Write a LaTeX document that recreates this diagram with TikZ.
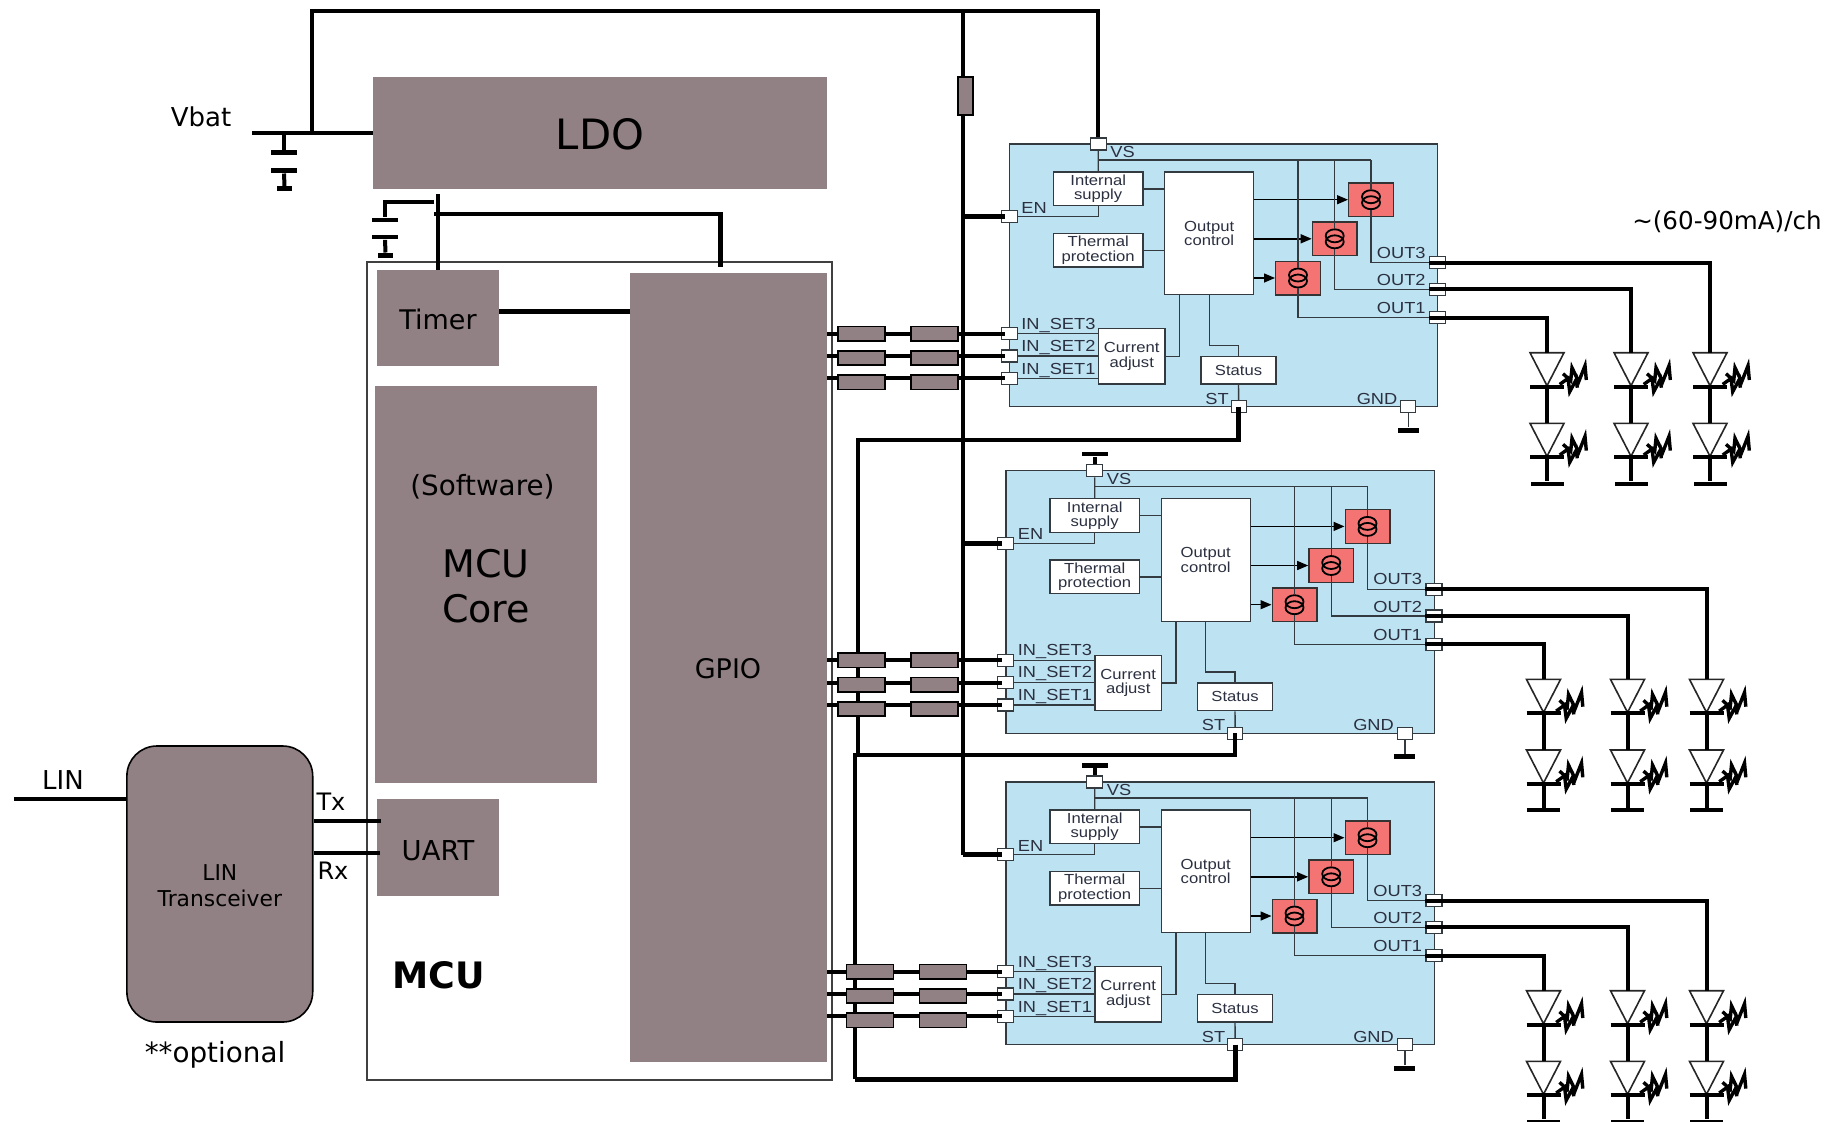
\documentclass[tikz,border=0pt]{standalone}
\usepackage{fontspec}
\setmainfont{DejaVu Sans}
\newfontfamily\chipfont[FakeStretch=1.14]{Liberation Sans}
\usetikzlibrary{positioning,arrows.meta,shapes.geometric}
\definecolor{grisbox}{HTML}{928184}
\definecolor{azulchip}{HTML}{BDE3F2}
\definecolor{rojosrc}{HTML}{F47474}
\definecolor{linchip}{HTML}{333A40}
\definecolor{txtchip}{HTML}{2B3040}
\tikzset{
  graybox/.style={rectangle, fill=grisbox, inner sep=0pt, align=center},
  chip/.style={rectangle, draw=linchip, line width=.7pt, fill=azulchip, inner sep=0pt},
  subbox/.style={rectangle, draw=linchip, line width=.7pt, fill=white, inner sep=0pt, align=center,
    text=txtchip, font=\chipfont\fontsize{7.3}{7.2}\selectfont},
  srcbox/.style={rectangle, draw=black!80, line width=.7pt, fill=rojosrc, inner sep=0pt,
    minimum width=22.3pt, minimum height=16.8pt},
  coil/.style={ellipse, draw=black, line width=.9pt, inner sep=0pt, minimum width=9pt, minimum height=6.5pt},
  pinbox/.style={rectangle, draw=linchip, line width=.6pt, fill=white, inner sep=0pt,
    minimum width=8pt, minimum height=6pt},
  pinlbl/.style={inner sep=0pt, text=txtchip, font=\chipfont\fontsize{8}{10}\selectfont},
  wire/.style={draw=linchip, line width=.7pt},
  flecha/.style={draw=black, line width=.7pt, -{Triangle[length=5.5pt,width=4.5pt]}},
  bus/.style={draw=black, line width=2pt},
  busthick/.style={draw=black, line width=2.4pt},
  plate/.style={rectangle, fill=black, inner sep=0pt, minimum width=13pt, minimum height=2.4pt},
  shortplate/.style={plate, minimum width=7.5pt},
  res/.style={rectangle, draw=black, line width=.8pt, fill=grisbox, inner sep=0pt,
    minimum width=23.5pt, minimum height=7.2pt},
  led/.pic={
    \draw[black!85, line width=.8pt, fill=white] (-17,-33) -- (17,-33) -- (0,0) -- cycle;
    \draw[black, line width=2pt] (-17,1) -- (17,1);
    \draw[black, line width=1.7pt] (16,-12) -- (23.7,-5) -- (25,-18) -- (31.7,-4) -- (38,-20) -- (39.3,-5.7);
    \draw[black, line width=1.7pt] (12.7,-1.3) -- (21,-7.3) -- (22.7,6) -- (29.3,-6.3) -- (30.3,2);
    \coordinate (-top) at (0,-33);
    \coordinate (-bot) at (0,1);
  },
}
\begin{document}
\begin{tikzpicture}[x=.5pt, y=-.5pt]
    \useasboundingbox (0,0) rectangle (1836,1121);
    % MCU
    \node[rectangle, draw=black!75, line width=.9pt, fill=white, minimum width=232.8pt, minimum height=409pt, inner sep=0pt] (mcu) at (599.5,670.7) {};
    \node[graybox, minimum width=226.8pt, minimum height=55.8pt] (ldo) at (599.8,132.8) {};
    \node[inner sep=0pt, font=\fontsize{20.9}{24}\selectfont] (ldolbl) at (600,134) {LDO};
    \node[graybox, minimum width=61pt, minimum height=48.2pt] (timer) at (438,318.2) {};
    \node[inner sep=0pt, font=\fontsize{13.5}{16}\selectfont] (timerlbl) at (438,319.5) {Timer};
    \node[graybox, minimum width=111.2pt, minimum height=198.5pt] (core) at (485.8,584.9) {};
    \node[inner sep=0pt, font=\fontsize{13.9}{16}\selectfont] (soft) at (482.4,487) {(Software)};
    \node[inner sep=0pt, align=center, font=\fontsize{19}{22.4}\selectfont] (corelbl) at (486,586) {MCU\\Core};
    \node[graybox, minimum width=61pt, minimum height=48.6pt] (uart) at (438,847.2) {};
    \node[inner sep=0pt, font=\fontsize{13.7}{16}\selectfont] (uartlbl) at (438,850.5) {UART};
    \node[graybox, minimum width=98.4pt, minimum height=394.4pt] (gpio) at (728.4,667.3) {};
    \node[inner sep=0pt, font=\fontsize{13.5}{16}\selectfont] (gpiolbl) at (728,668.5) {GPIO};
    \node[inner sep=0pt, font=\bfseries\fontsize{18.2}{20}\selectfont] (mculbl) at (439,975.5) {MCU};
    % LIN
    \node[graybox, draw=black, line width=.8pt, rounded corners=15pt, minimum width=92.9pt, minimum height=138pt] (lin) at (219.8,884) {};
    \node[inner sep=0pt, align=center, font=\fontsize{10.9}{13}\selectfont] (linlbl2) at (219.8,886) {LIN\\Transceiver};
    \node[inner sep=0pt, font=\fontsize{13.9}{16}\selectfont] (optlbl) at (215,1055) {**optional};
    \coordinate (linin) at (14,799.3);
    \coordinate (txin) at (381,820.7);
    \coordinate (rxin) at (380,852.7);
    \draw[bus] (linin) -- (linin -| lin.west);
    \draw[bus] (txin) -- (txin -| lin.east);
    \draw[bus] (rxin) -- (rxin -| lin.east);
    \node[inner sep=0pt, font=\fontsize{13}{14}\selectfont] (linlbl) at (63,780) {LIN};
    \node[inner sep=0pt, font=\fontsize{12}{14}\selectfont] (txlbl) at (331,802) {Tx};
    \node[inner sep=0pt, font=\fontsize{12}{14}\selectfont] (rxlbl) at (333,871) {Rx};
    \coordinate (timerj) at (499,311.3);
    \draw[busthick] (timerj) -- (timerj -| gpio.west);
    % Bateria y cap
    \node[inner sep=0pt, font=\fontsize{13}{16}\selectfont] (vbat) at (201,117) {Vbat};
    \node[inner sep=0pt, font=\fontsize{12.3}{15}\selectfont] (corr) at (1727,222) {\textasciitilde(60-90mA)/ch};
    \coordinate (vbatl) at (252,132.7);
    \coordinate (railtop) at (311.7,11);
    \node[plate] (batt1) at (284,152.3) {};
    \node[plate] (batt2) at (284,170.7) {};
    \node[shortplate] (batt3) at (284.5,188.7) {};
    \draw[bus] (vbatl) -- (ldo.west |- vbatl);
    \draw[bus] (vbatl -| batt1) -- (batt1);
    \draw[bus] (batt2) -- (batt3);
    \node[plate] (cap1) at (385,220) {};
    \node[plate] (cap2) at (385,237) {};
    \node[shortplate] (cap3) at (385.5,255.3) {};
    \coordinate (capj) at (434,202);
    \coordinate (timertop) at (438,194);
    \coordinate (busj) at (434.3,214);
    \coordinate (gpj) at (720.3,266.7);
    \draw[bus] (capj) -| (cap1);
    \draw[bus] (cap2) -- (cap3);
    \draw[bus] (timertop) -- (timer.north);
    \draw[busthick] (busj) -| (gpj);
    % Drivers
    \foreach \n/\dx/\dy in {a/0/0,b/-3.5/326.7,c/-3.5/638}{
      \begin{scope}[shift={(\dx,\dy)}]
        \node[chip, minimum width=214.2pt, minimum height=131.4pt] (drv\n) at (1223.5,275.3) {};
        \node[subbox, minimum width=44.8pt, minimum height=16.8pt] (supply\n) at (1098.2,188.8) {Internal\\supply};
        \node[subbox, minimum width=44.8pt, minimum height=16.8pt] (therm\n) at (1098.2,250.2) {Thermal\\protection};
        \node[subbox, minimum width=44.5pt, minimum height=61.4pt] (ctrl\n) at (1209.2,233.3) {Output\\control};
        \node[subbox, minimum width=33.3pt, minimum height=27.7pt] (adj\n) at (1131.7,356.3) {Current\\adjust};
        \node[subbox, minimum width=37.5pt, minimum height=13.8pt] (stat\n) at (1238.5,370.2) {Status};
        \node[pinbox] (vs\n) at (1098.3,144) {};
        \node[pinbox] (en\n) at (1009.3,216.7) {};
        \node[pinbox, minimum width=7.5pt] (st\n) at (1238.7,406.7) {};
        \node[pinbox, minimum width=7.5pt] (gnd\n) at (1408.3,406.7) {};
        \node[plate, minimum width=10.5pt, below=7pt of gnd\n] (gbar\n) {};
        \coordinate (bus\n) at (1371,160);
        \coordinate (stj\n) at (1238.5,345.3);
        \coordinate (adjj\n) at (1179.3,294.7);
        \draw[wire] (vs\n) -- (supply\n.north);
        \draw[wire] (vs\n |- bus\n) -- (bus\n);
        \draw[wire] (en\n) -| (supply\n.south);
        \draw[wire] (gnd\n) -- (gbar\n);
        \draw[wire] (supply\n.east) -- (ctrl\n.west |- supply\n.east);
        \draw[wire] (therm\n.east) -- (ctrl\n.west |- therm\n.east);
        \draw[wire] (adj\n.east) -| (adjj\n);
        \draw[wire] (ctrl\n.south) |- (stj\n) -- (stat\n.north);
        \draw[wire] (stat\n.south) -- (st\n);
        \foreach \k/\sx/\sy/\oy in {3/1371/199.7/262.5,2/1334.7/238.8/289.3,1/1298/278/317.7}{
          \node[srcbox] (red\k\n) at (\sx,\sy) {};
          \node[coil] (hi\k\n) at (\sx,\sy-3) {};
          \node[coil] (lo\k\n) at (\sx,\sy+3) {};
          \node[pinbox] (out\k\n) at (1437.5,\oy) {};
          \draw[wire] (hi\k\n.north |- bus\n) -- (hi\k\n.north);
          \draw[wire] (lo\k\n.south) |- (out\k\n.west);
          \draw[flecha] (ctrl\n.east |- red\k\n) -- (red\k\n.west);
        }
        \foreach \k/\iy in {3/333.7,2/356,1/378.3}{
          \node[pinbox] (in\k\n) at (1009.3,\iy) {};
          \draw[wire] (in\k\n.east) -- (adj\n.west |- in\k\n);
        }
        \node[pinlbl, anchor=west] (lvs\n) at (1110,152) {VS};
        \node[pinlbl, anchor=west] (len\n) at (1021,207.5) {EN};
        \node[pinlbl, anchor=west] (ls3\n) at (1021,325) {IN\_SET3};
        \node[pinlbl, anchor=west] (ls2\n) at (1021,347) {IN\_SET2};
        \node[pinlbl, anchor=west] (ls1\n) at (1021,370) {IN\_SET1};
        \node[pinlbl, anchor=east] (lo3\n) at (1426,252.7) {OUT3};
        \node[pinlbl, anchor=east] (lo2\n) at (1426,280) {OUT2};
        \node[pinlbl, anchor=east] (lo1\n) at (1426,308) {OUT1};
        \node[pinlbl] (lst\n) at (1217,398.5) {ST};
        \node[pinlbl] (lgn\n) at (1377,398.5) {GND};
        % LEDs
        \foreach \k/\cx in {1/1547,2/1631,3/1710}{
          \pic (ledu\k\n) at (\cx,385.7) {led};
          \pic (ledd\k\n) at (\cx,456.3) {led};
          \node[plate, minimum width=16.5pt, minimum height=2pt] (lgnd\k\n) at (\cx,483.7) {};
          \draw[bus] (out\k\n.west) -| (ledu\k\n-top);
          \draw[bus] (ledu\k\n-bot) -- (ledd\k\n-top);
          \draw[bus] (ledd\k\n-bot) -- (lgnd\k\n);
        }
      \end{scope}
    }
    % Alimentacion
    \node[plate, above=3.7pt of vsb] (vbarb) {};
    \node[plate, above=3.7pt of vsc] (vbarc) {};
    \draw[bus] (vsb) -- (vbarb);
    \draw[bus] (vsc) -- (vbarc);
    \draw[bus] (vbatl -| railtop) -- (railtop) -| (vsa.north);
    \coordinate (entop) at (963,11);
    \draw[busthick] (entop) -- (entop |- enc);
    \foreach \n in {a,b,c}{
      \draw[busthick] (entop |- en\n) -- ([xshift=-2pt]en\n.center);
    }
    \node[res, minimum width=7.5pt, minimum height=19pt] (rvs) at (965.5,96) {};
    % Status
    \coordinate (stlinea) at (858,440);
    \coordinate (stlineb) at (855,755);
    \coordinate (stlinec) at (855,1079.3);
    \draw[busthick] (sta.center) |- (stlinea) -- (stlinea |- stlineb);
    \draw[bus] (stb.center) |- (stlineb) -- (stlinec);
    \draw[busthick] (stc.center) |- (stlinec);
    % Resistencias de los IN_SET
    \foreach \n/\xa/\xb in {a/861.3/934.5,b/861.3/934.5,c/870/943}{
      \foreach \k/\ry in {3/0,2/1,1/2}{
        \draw[bus] (gpio.east |- in\k\n) -- ([xshift=-2pt]in\k\n.center);
        \node[res, yshift=-\ry pt] (ra\k\n) at (\xa,0 |- in\k\n) {};
        \node[res, yshift=-\ry pt] (rb\k\n) at (\xb,0 |- in\k\n) {};
      }
    }
  \end{tikzpicture}
\end{document}
